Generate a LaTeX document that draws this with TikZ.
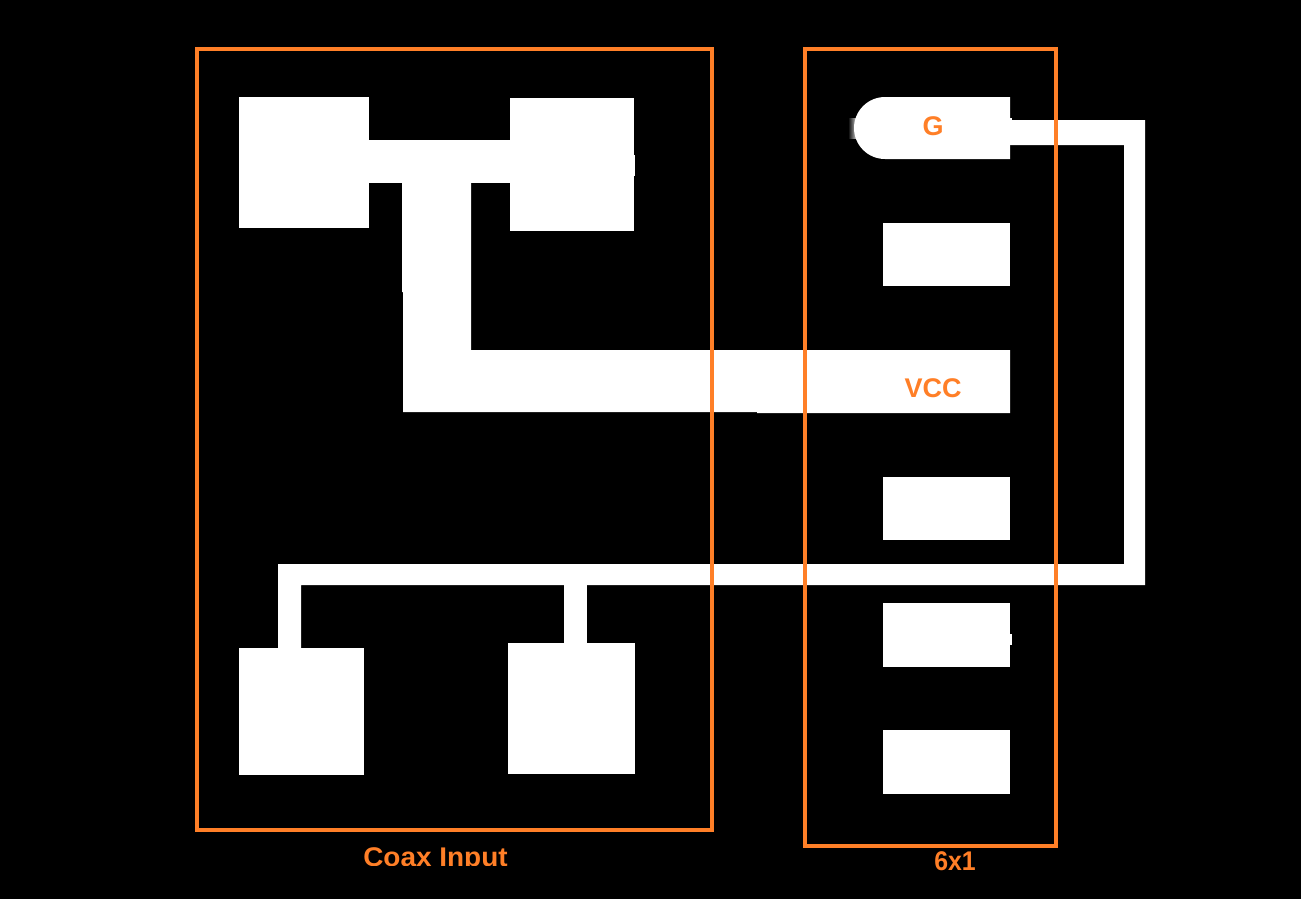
\documentclass[tikz,border=0pt]{standalone}
\usepackage{fontspec}
\setmainfont{Liberation Sans}
\definecolor{org}{HTML}{FF7F27}
\tikzset{
 px/.style={x=1pt,y=-1pt},
 pad/.style={fill=white,draw=none},
 frame/.style={draw=org,line width=4pt,fill=none},
 lbl/.style={text=org,font=\bfseries\fontsize{27}{30}\selectfont,inner sep=0pt}
}
\begin{document}
\begin{tikzpicture}[px]
\useasboundingbox[fill=black] (0,0) rectangle (1301,899);
% smudge left of the G pad
\shade[left color=black,right color=black!25!white] (848,118) rectangle (856,138);
% pads
\fill[pad] (239,97) rectangle (369,228);
\fill[pad] (510,98) rectangle (634,231);
\fill[pad] (239,648) rectangle (364,775);
\fill[pad] (508,643) rectangle (635,774);
\fill[pad] (885,97) -- (1010,97) -- (1010,159) -- (885,159) arc[start angle=90,end angle=270,radius=31] -- cycle;
\fill[pad] (883,223) rectangle (1010,286);
\fill[pad] (883,477) rectangle (1010,540);
\fill[pad] (883,603) rectangle (1010,667);
\fill[pad] (883,730) rectangle (1010,794);
% traces
\fill[pad] (369,140) rectangle (510,183);
\fill[pad] (402,183) -- (471,183) -- (471,350) -- (1010,350) -- (1010,413) -- (757,413) -- (757,412) -- (403,412) -- (403,292) -- (402,292) -- cycle;
\fill[pad] (1010,120) -- (1145,120) -- (1145,585) -- (301,585) -- (301,648) -- (278,648) -- (278,564) -- (1124,564) -- (1124,145) -- (1010,145) -- cycle;
\fill[pad] (1010,118) rectangle (1012,120);
\fill[pad] (564,585) rectangle (587,643);
\fill[pad] (634,155) rectangle (635,176);
\fill[pad] (1010,634) rectangle (1012,645);
% frames
\draw[frame] (197,49) rectangle (712,830);
\draw[frame] (805,49) rectangle (1056,846);
% labels
\node[lbl,anchor=center] (g) at (933,126) {G};
\node[lbl,anchor=center] (vcc) at (933,388) {VCC};
\begin{scope}
\clip (300,835) rectangle (1100,865);
\node[lbl,anchor=base,xscale=1.035] (coax) at (435.5,866) {Coax Input};
\end{scope}
\node[lbl,anchor=base,xscale=.92] (six) at (955,870) {6x1};
\end{tikzpicture}
\end{document}
